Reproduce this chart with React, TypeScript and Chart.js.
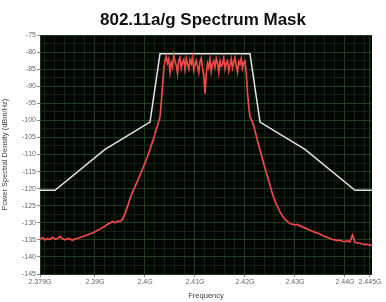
import React, { useEffect, useRef } from "react";
import { Chart, registerables } from "chart.js";

Chart.register(...registerables);

const titleText = "802.11a/g Spectrum Mask";
const xAxisTitle = "Frequency";
const yAxisTitle = "Power Spectral Density (dBm/Hz)";

// x tick labels (MHz) and y tick labels (dBm/Hz)
const xTickValues = [2379, 2390, 2400, 2410, 2420, 2430, 2440, 2445];
const yTickValues = [-75, -80, -85, -90, -95, -100, -105, -110, -115, -120, -125, -130, -135, -140, -145];

// spectrum mask (white)
const maskFreq = [2379, 2382, 2392, 2401, 2403, 2421, 2423, 2432, 2442, 2445.4];
const maskLevel = [-120.5, -120.5, -108.5, -100.5, -80.5, -80.5, -100.5, -108.5, -120.5, -120.5];

// measured spectrum (red)
const spectrumFreq = [
  2379, 2379.5, 2380, 2380.5, 2381, 2381.5, 2382, 2382.5, 2383, 2383.5, 2384, 2384.5, 2385, 2385.5,
  2386, 2386.5, 2387, 2387.5, 2388, 2388.5, 2389, 2389.5, 2390, 2390.5, 2391, 2391.5, 2392, 2392.5,
  2393, 2393.5, 2394, 2394.5, 2395, 2395.5, 2396, 2396.5, 2397, 2397.5, 2398, 2398.5, 2399, 2399.5,
  2400, 2400.5, 2401, 2401.5, 2402, 2402.5, 2403, 2403.25, 2403.5, 2403.75,
  2404, 2404.25, 2404.5, 2404.75, 2405, 2405.25, 2405.5, 2405.75, 2406, 2406.25, 2406.5, 2406.75,
  2407, 2407.25, 2407.5, 2407.75, 2408, 2408.25, 2408.5, 2408.75, 2409, 2409.25, 2409.5, 2409.75,
  2410, 2410.25, 2410.5, 2410.75, 2411, 2411.25, 2411.5, 2411.75, 2412, 2412.25, 2412.5, 2412.75,
  2413, 2413.25, 2413.5, 2413.75, 2414, 2414.25, 2414.5, 2414.75, 2415, 2415.25, 2415.5, 2415.75,
  2416, 2416.25, 2416.5, 2416.75, 2417, 2417.25, 2417.5, 2417.75, 2418, 2418.25, 2418.5, 2418.75,
  2419, 2419.25, 2419.5, 2419.75, 2420, 2420.25, 2420.5, 2420.75,
  2421, 2421.5, 2422, 2422.5, 2423, 2423.5, 2424, 2424.5, 2425, 2425.5, 2426, 2426.5, 2427, 2427.5,
  2428, 2428.5, 2429, 2429.5, 2430, 2430.5, 2431, 2431.5, 2432, 2432.5, 2433, 2433.5, 2434, 2434.5,
  2435, 2435.5, 2436, 2436.5, 2437, 2437.5, 2438, 2438.5, 2439, 2439.5, 2440, 2440.5, 2441, 2441.5,
  2442, 2442.5, 2443, 2443.5, 2444, 2444.5, 2445, 2445.4,
];
const spectrumLevel = [
  -134.8, -134.3, -135.0, -134.6, -134.9, -134.2, -134.8, -134.6, -134.0, -134.7, -135.0, -134.6, -134.8, -135.1,
  -134.7, -134.6, -134.3, -134.1, -133.8, -133.6, -133.2, -133.0, -132.6, -132.2, -131.9, -131.4, -131.0, -130.4,
  -130.1, -129.6, -130.0, -129.5, -129.6, -129.0, -127.3, -125.2, -123.0, -121.0, -119.4, -117.8, -116.0, -114.3,
  -112.5, -110.6, -108.5, -106.3, -104.0, -101.5, -99.0, -95.0, -90.0, -85.0,
  -82.6, -81.3, -83.2, -82.0, -85.9, -83.1, -84.4, -81.0, -82.7, -83.9, -86.2, -82.4,
  -81.6, -84.7, -83.0, -82.2, -85.1, -81.9, -83.6, -84.9, -82.3, -83.4, -81.5, -85.3,
  -83.8, -82.5, -84.1, -86.0, -82.9, -81.8, -84.5, -87.0, -92.2, -86.4, -83.3, -84.6,
  -82.1, -85.7, -83.4, -82.6, -84.4, -81.9, -83.1, -85.8, -82.7, -84.2, -83.5, -81.7,
  -84.9, -83.2, -82.5, -85.5, -83.9, -82.0, -84.6, -82.9, -81.6, -84.1, -85.9, -82.8,
  -83.6, -81.9, -84.7, -83.0, -82.6, -86.0, -92.0, -96.0,
  -99.0, -100.5, -103.0, -106.0, -108.7, -111.3, -114.0, -116.5, -119.0, -121.6, -123.6, -125.3, -126.8, -128.0,
  -129.0, -129.6, -130.3, -130.4, -130.7, -130.5, -130.9, -131.2, -131.5, -131.8, -132.2, -132.5, -132.8, -133.0,
  -133.3, -133.7, -134.0, -134.3, -134.6, -134.9, -135.0, -135.2, -135.1, -135.4, -135.5, -135.3, -135.6, -133.6,
  -135.7, -135.9, -136.0, -136.2, -136.4, -136.3, -136.6, -136.5,
];

const X_MIN = 2379;
const X_MAX = 2445.4;
const Y_MIN = -145;
const Y_MAX = -75;
const FONT = "'Liberation Sans', Arial, sans-serif";

export default function App() {
  const ref = useRef<HTMLCanvasElement | null>(null);

  useEffect(() => {
    document.body.style.margin = "0";
    const canvas = ref.current;
    if (!canvas) return;

    const plotBg = {
      id: "plotBg",
      beforeDraw(chart: any) {
        const { ctx, chartArea } = chart;
        ctx.save();
        ctx.fillStyle = "#020602";
        ctx.fillRect(chartArea.left, chartArea.top, chartArea.right - chartArea.left, chartArea.bottom - chartArea.top);
        ctx.restore();
      },
      afterDraw(chart: any) {
        const { ctx } = chart;
        ctx.save();
        ctx.fillStyle = "#111";
        ctx.font = `bold 17px ${FONT}`;
        ctx.textAlign = "center";
        ctx.textBaseline = "middle";
        ctx.fillText(titleText, 203, 20);
        ctx.restore();
      },
    };

    const xGrid: number[] = [];
    for (let v = 2380; v <= 2444; v += 2) xGrid.push(v);
    const yGrid: number[] = [];
    for (let v = Y_MIN; v <= Y_MAX; v += 2.5) yGrid.push(v);

    const chart = new Chart(canvas, {
      type: "line",
      data: {
        datasets: [
          {
            data: spectrumFreq.map((f, i) => ({ x: f, y: spectrumLevel[i] })),
            borderColor: "rgb(240,72,72)",
            borderWidth: 1.7,
            pointRadius: 0,
            tension: 0,
          },
          {
            data: maskFreq.map((f, i) => ({ x: f, y: maskLevel[i] })),
            borderColor: "#e4e4e4",
            borderWidth: 1.5,
            pointRadius: 0,
            tension: 0,
          },
        ],
      },
      plugins: [plotBg],
      options: {
        responsive: false,
        animation: false,
        layout: { padding: { top: 35, right: 14, left: 0, bottom: 0 } },
        plugins: { legend: { display: false }, tooltip: { enabled: false }, title: { display: false } },
        scales: {
          x: {
            type: "linear",
            min: X_MIN,
            max: X_MAX,
            afterBuildTicks(scale: any) {
              const vals = Array.from(new Set([...xTickValues, ...xGrid])).sort((a, b) => a - b);
              scale.ticks = vals.map((v) => ({ value: v }));
            },
            afterFit(scale: any) {
              scale.height = 28;
            },
            ticks: {
              autoSkip: false,
              maxRotation: 0,
              padding: 1,
              color: "#666",
              font: { size: 7, family: FONT },
              callback: (v: any) => (xTickValues.includes(Number(v)) ? `${Number(v) / 1000}G` : ""),
            },
            grid: {
              color: (c: any) => (c.tick && xTickValues.includes(c.tick.value) ? "rgb(30,62,30)" : "rgb(17,38,17)"),
              tickColor: (c: any) => (c.tick && xTickValues.includes(c.tick.value) ? "#888" : "rgba(0,0,0,0)"),
              tickLength: 3,
              lineWidth: 1,
            },
            border: { display: false },
            title: {
              display: true,
              text: xAxisTitle,
              color: "#444",
              padding: { top: 0, bottom: 2 },
              font: { size: 7.5, family: FONT },
            },
          },
          y: {
            type: "linear",
            min: Y_MIN,
            max: Y_MAX,
            afterBuildTicks(scale: any) {
              scale.ticks = yGrid.map((v) => ({ value: v }));
            },
            afterFit(scale: any) {
              scale.width = 40;
            },
            ticks: {
              autoSkip: false,
              padding: 1,
              color: "#666",
              font: { size: 7, family: FONT },
              callback: (v: any) => (yTickValues.includes(Number(v)) ? String(v) : ""),
            },
            grid: {
              color: (c: any) => (c.tick && yTickValues.includes(c.tick.value) ? "rgb(30,62,30)" : "rgb(17,38,17)"),
              tickColor: (c: any) => (c.tick && yTickValues.includes(c.tick.value) ? "#888" : "rgba(0,0,0,0)"),
              tickLength: 3,
              lineWidth: 1,
            },
            border: { display: false },
            title: {
              display: true,
              text: yAxisTitle,
              color: "#444",
              padding: { top: 0, bottom: 4 },
              font: { size: 7.5, family: FONT },
            },
          },
        },
      },
    } as any);

    return () => chart.destroy();
  }, []);

  return <canvas ref={ref} width={386} height={302} style={{ display: "block" }} />;
}
